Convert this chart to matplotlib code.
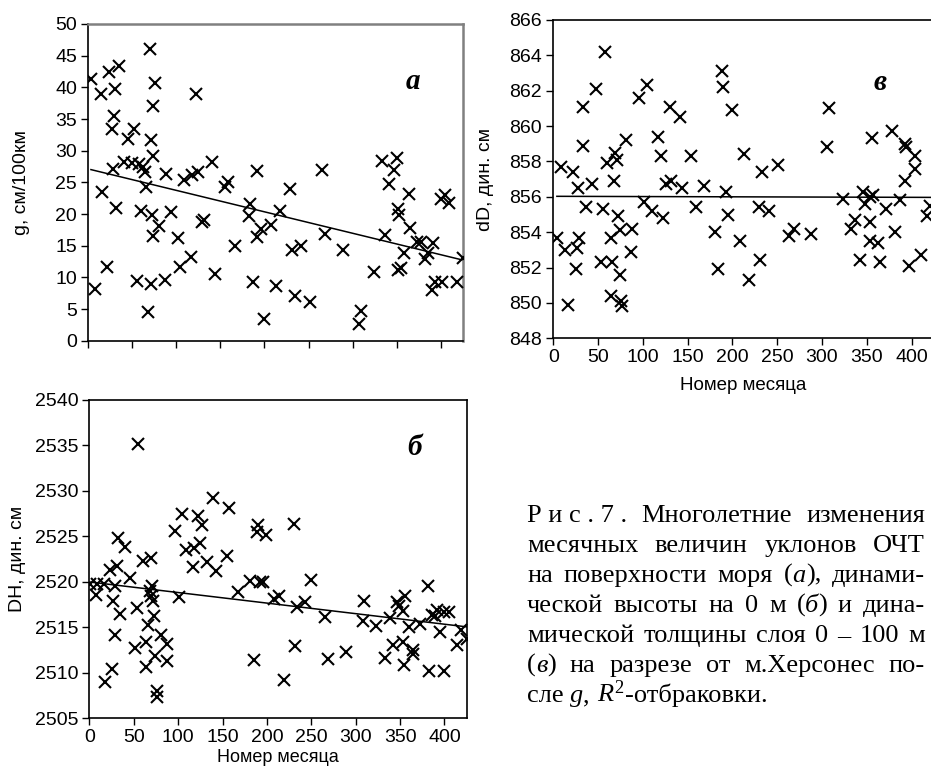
import numpy as np
import matplotlib
matplotlib.use("Agg")
import matplotlib.pyplot as plt

plt.rcParams['font.family'] = ['Liberation Sans', 'DejaVu Sans']
plt.rcParams['mathtext.fontset'] = 'custom'
plt.rcParams['mathtext.rm'] = 'Liberation Serif'
plt.rcParams['mathtext.it'] = 'Liberation Serif:italic'

# (а) уклоны ОЧТ на поверхности моря
month_a = [3, 8, 14, 15, 21, 24, 27, 28, 29, 30, 31, 35, 41, 45, 50, 52, 55, 58, 60, 62,
           64, 65, 68, 70, 71, 71, 72, 73, 74, 74, 76, 80, 87, 88, 94, 102, 104, 109, 117, 118,
           122, 125, 129, 131, 140, 144, 155, 159,
           167, 182, 184, 187, 191, 191, 196, 199, 207, 213, 218, 229, 231, 235, 241, 252, 265, 269,
           289, 307, 309, 324,
           333, 337, 341, 347, 350, 352, 355, 352, 353, 358, 364, 365, 373, 378, 382, 386, 391, 390,
           394, 402, 400, 405, 410, 418, 425]
g_a = [41.3, 8.2, 39.0, 23.4, 11.7, 42.5, 33.5, 27.1, 35.5, 39.7, 20.9, 43.4, 28.2, 31.9, 28.0, 33.5, 9.4, 27.9, 20.5, 27.5,
       26.6, 24.2, 4.5, 46.0, 8.9, 31.7, 19.8, 37.1, 29.2, 16.5, 40.7, 18.1, 9.6, 26.3, 20.3, 16.2, 11.7, 25.4, 13.2, 26.2,
       38.9, 26.7, 18.8, 19.1, 28.2, 10.6, 24.2, 25.1,
       15.0, 19.7, 21.6, 9.2, 26.8, 16.3, 17.6, 3.5, 18.3, 8.6, 20.5, 23.9, 14.3, 7.1, 15.0, 6.1, 26.9, 16.9,
       14.3, 2.6, 4.7, 10.8,
       28.4, 16.7, 24.8, 26.9, 28.9, 11.2, 11.4, 20.8, 19.8, 13.9, 23.2, 17.8, 15.6, 15.6, 12.9, 13.9, 15.4, 8.0,
       9.2, 9.2, 22.4, 23.0, 21.8, 9.2, 13.0]

# (б) динамическая высота на 0 м
month_b = [1, 8, 9, 17, 18, 23, 25, 27, 29, 29, 31, 32, 35, 40, 46, 52, 54, 55, 61, 64,
           64, 66, 68, 70, 70, 71, 72, 73, 74, 76, 76, 81, 88, 88, 96, 101, 104, 109, 117, 118,
           122, 125, 127, 132, 139, 143, 155, 157,
           167, 181, 185, 189, 190, 192, 196, 199, 208, 214, 219, 231, 232, 234, 243, 250, 265, 269,
           289, 309, 308, 323, 333, 339, 342, 347, 349, 353, 356, 353, 354, 360, 364, 365, 372, 381,
           382, 386, 389, 392, 395, 400, 399, 405, 414, 419, 425]
dh_b = [2519.8, 2518.6, 2519.8, 2519.8, 2509.0, 2521.3, 2510.4, 2517.9, 2519.6, 2514.2,
        2521.7, 2524.8, 2516.5, 2523.8, 2520.4, 2512.7, 2517.1, 2535.2, 2522.3, 2513.4,
        2510.6, 2515.3, 2519.0, 2522.6, 2518.4, 2519.6, 2517.9, 2516.3, 2511.9, 2508.0,
        2507.3, 2514.2, 2513.2, 2511.3, 2525.6, 2518.3, 2527.5, 2523.5, 2521.6, 2523.7,
        2527.2, 2524.3, 2526.3, 2522.2, 2529.2, 2521.2, 2522.8, 2528.1,
        2518.9, 2520.1, 2511.4, 2525.5, 2526.3, 2520.0, 2520.0, 2525.2, 2518.1, 2518.5,
        2509.2, 2526.4, 2512.9, 2517.2, 2517.8, 2520.2, 2516.1, 2511.5,
        2512.3, 2517.9, 2515.7, 2515.2, 2511.6, 2516.0, 2513.1, 2517.8, 2517.4, 2516.8,
        2518.4, 2513.4, 2510.9, 2515.0, 2512.5, 2512.1, 2515.4, 2519.6,
        2510.2, 2516.4, 2516.3, 2516.9, 2514.5, 2510.2, 2516.7, 2516.7, 2513.1, 2514.7, 2513.7]

# (в) динамическая толщина слоя 0-100 м
month_v = [4, 9, 13, 16, 22, 25, 27, 28, 29, 33, 33, 37, 43, 48, 53, 55, 58, 60, 64, 64,
           66, 68, 69, 71, 72, 74, 74, 76, 77, 81, 87, 88, 96, 101, 105, 110, 117, 120, 122, 126,
           130, 131, 141, 144, 154, 159, 168,
           181, 184, 188, 189, 193, 195, 199, 208, 213, 219, 230, 231, 233, 241, 251, 263, 269, 288,
           306, 308, 323, 332, 337, 342, 346, 348, 353, 353, 354, 356, 357, 363, 365, 371, 378, 381,
           387, 393, 394, 393, 397, 404, 404, 411, 417, 421]
dd_v = [853.7, 857.7, 853.0, 849.9, 857.4, 851.9, 853.1, 856.5, 853.7, 861.1, 858.9, 855.4, 856.7, 862.1,
        852.3, 855.3, 864.2, 857.9, 853.7, 850.4, 852.3, 856.9, 858.5, 858.1, 854.9, 854.1, 851.6,
        850.1, 849.8, 859.2, 852.9, 854.2, 861.6, 855.7, 862.3, 855.2, 859.4, 858.3, 854.8, 856.7,
        861.1, 856.9, 860.5, 856.5, 858.3, 855.4, 856.6,
        854.0, 851.9, 863.1, 862.2, 856.3, 855.0, 860.9, 853.5, 858.4, 851.3, 855.4, 852.4, 857.4,
        855.2, 857.8, 853.8, 854.2, 853.9, 858.8, 861.0, 855.9, 854.2, 854.7, 852.4, 856.3, 855.6,
        854.6, 853.5, 856.0, 859.3, 856.1, 853.4, 852.3, 855.3, 859.7, 854.0, 855.8, 859.0, 858.8,
        856.9, 852.1, 858.3, 857.6, 852.7, 854.9, 855.5]

W, H = 931, 771
fig = plt.figure(figsize=(W / 100, H / 100), dpi=100)


def px_axes(left, top, right, bottom):
    return fig.add_axes([left / W, 1 - bottom / H, (right - left) / W, (bottom - top) / H])


def panel(ax, x, y, ylim, ystep, ylabel, letter, letter_xy, label_x, show_xlabels=True):
    x = np.asarray(x, float)
    y = np.asarray(y, float)
    ax.plot(x, y, 'x', color='black', ms=8, mew=1.5, zorder=3)
    k, b = np.polyfit(x, y, 1)
    xx = np.array([x.min(), x.max()])
    ax.plot(xx, k * xx + b, color='black', lw=1.1, zorder=2)
    ax.set_xlim(0, 425)
    ax.set_ylim(*ylim)
    ax.set_xticks(np.arange(0, 401, 50))
    ax.set_yticks(np.arange(ylim[0], ylim[1] + 0.1, ystep))
    ax.tick_params(direction='out', length=5, width=1, labelsize=14, pad=3)
    if not show_xlabels:
        ax.set_xticklabels([])
    ax.set_ylabel(ylabel, fontsize=14)
    ax.yaxis.set_label_coords(label_x, 0.5)
    ax.text(letter_xy[0], letter_xy[1], letter, transform=ax.transAxes,
            fontsize=21, fontweight='bold', fontstyle='italic',
            family='Liberation Serif', ha='center', va='center')
    for s in ax.spines.values():
        s.set_linewidth(1.2)


ax_a = px_axes(88.3, 24, 462.7, 340.7)
panel(ax_a, month_a, g_a, (0, 50), 5, 'g, см/100км', 'а', (0.867, 0.82), -0.156, show_xlabels=False)
for side in ('top', 'right'):
    ax_a.spines[side].set_color('#808080')
    ax_a.spines[side].set_linewidth(1.8)

ax_b = px_axes(89.3, 400, 466.7, 718.3)
panel(ax_b, month_b, dh_b, (2505, 2540), 5, 'DH, дин. см', 'б', (0.863, 0.85), -0.168)
ax_b.set_xlabel('Номер месяца', fontsize=13)
ax_b.xaxis.set_label_coords(0.5, -0.098)

ax_v = px_axes(553.3, 20, 934, 338.3)
panel(ax_v, month_v, dd_v, (848, 866), 2, 'dD, дин. см', 'в', (0.858, 0.805), -0.156)
ax_v.set_xlabel('Номер месяца', fontsize=13.5)
ax_v.xaxis.set_label_coords(0.5, -0.122)

# подпись к рисунку, выровненная по ширине
cap_left, cap_right = 527, 925
cap_size = 19
serif = 'Liberation Serif'
it = {'fontstyle': 'italic'}
caption = [
    [[('Р и с . 7 .', {})], [('Многолетние', {})], [('изменения', {})]],
    [[('месячных', {})], [('величин', {})], [('уклонов', {})], [('ОЧТ', {})]],
    [[('на', {})], [('поверхности', {})], [('моря', {})], [('(', {}), ('а', it), ('),', {})], [('динами-', {})]],
    [[('ческой', {})], [('высоты', {})], [('на', {})], [('0', {})], [('м', {})],
     [('(', {}), ('б', it), (')', {})], [('и', {})], [('дина-', {})]],
    [[('мической', {})], [('толщины', {})], [('слоя', {})], [('0', {})], [('–', {})], [('100', {})], [('м', {})]],
    [[('(', {}), ('в', it), (')', {})], [('на', {})], [('разрезе', {})], [('от', {})],
     [('м.Херсонес', {})], [('по-', {})]],
    [[('сле', {})], [('g', it), (',', {})], [(r'$R^{2}$', {}), ('-отбраковки.', {})]],
]
renderer = fig.canvas.get_renderer()
base_y = 522
line_step = 30
for i, words in enumerate(caption):
    y = base_y + i * line_step
    placed = []
    widths = []
    for word in words:
        segs = []
        for s, kw in word:
            t = fig.text(0, 0, s, fontsize=cap_size, family=serif, ha='left', va='baseline', **kw)
            segs.append((t, t.get_window_extent(renderer).width))
        placed.append(segs)
        widths.append(sum(w for _, w in segs))
    if i < len(caption) - 1:
        gap = (cap_right - cap_left - sum(widths)) / (len(words) - 1)
    else:
        gap = 0.25 * cap_size * 100 / 72
    x = cap_left
    for segs in placed:
        for t, w in segs:
            t.set_position((x / W, 1 - y / H))
            x += w
        x += gap

fig.savefig('out.png', dpi=100)
